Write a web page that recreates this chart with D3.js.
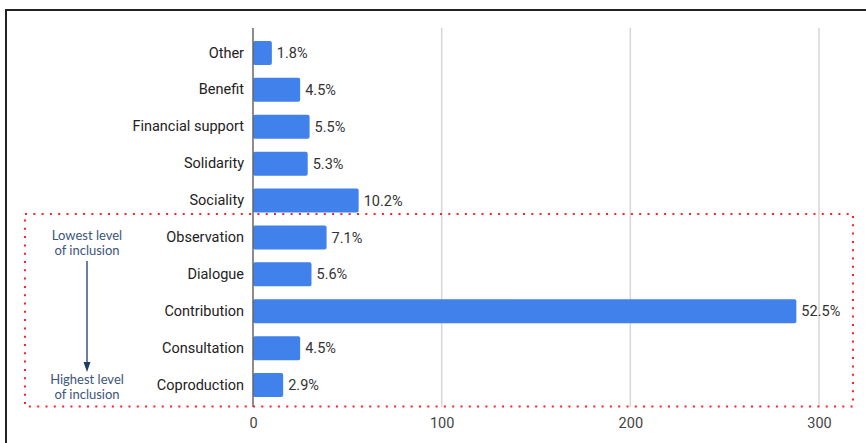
<!DOCTYPE html>
<html>
<head>
<meta charset="utf-8">
<script src="https://cdn.jsdelivr.net/npm/d3@7"></script>
<style>
  body { margin: 0; background: #fff; }
  svg { display: block; font-family: Roboto, "Noto Sans", sans-serif; }
</style>
</head>
<body>
<div id="chart"></div>
<script>
// chart data
const categories = ["Other", "Benefit", "Financial support", "Solidarity", "Sociality",
  "Observation", "Dialogue", "Contribution", "Consultation", "Coproduction"];
const counts = [10, 25, 30, 29, 56, 39, 31, 288, 25, 16];
const shares = ["1.8%", "4.5%", "5.5%", "5.3%", "10.2%", "7.1%", "5.6%", "52.5%", "4.5%", "2.9%"];
const xTicks = [0, 100, 200, 300];
const boxedRows = ["Observation", "Coproduction"];
const topNote = ["Lowest level", "of inclusion"];
const bottomNote = ["Highest level", "of inclusion"];

const width = 866;
const height = 443;

const svg = d3.select("#chart")
  .append("svg")
  .attr("width", width)
  .attr("height", height);

// outer frame
svg.append("rect")
  .attr("x", 6)
  .attr("y", 10)
  .attr("width", width + 10)
  .attr("height", height + 10)
  .attr("fill", "none")
  .attr("stroke", "#222")
  .attr("stroke-width", 2);

const x = d3.scaleLinear()
  .domain([0, 300])
  .range([253, 819]);

const y = d3.scaleBand()
  .domain(categories)
  .range([34.5, 403.5])
  .paddingInner(0.35)
  .paddingOuter(0.175);

const gridTop = 28;
const gridBottom = 407;

// gridlines
svg.append("g")
  .selectAll("line")
  .data(xTicks.filter(d => d > 0))
  .join("line")
  .attr("x1", d => x(d))
  .attr("x2", d => x(d))
  .attr("y1", gridTop)
  .attr("y2", gridBottom)
  .attr("stroke", "#d6d6d6")
  .attr("stroke-width", 1.5);

// bottom axis, labels only
const xAxis = svg.append("g")
  .attr("transform", `translate(0,${gridBottom})`)
  .call(d3.axisBottom(x).tickValues(xTicks).tickSize(0).tickPadding(11));
xAxis.select(".domain").remove();
xAxis.selectAll("text")
  .attr("font-family", "Roboto, sans-serif")
  .attr("font-size", 14.5)
  .attr("fill", "#444");

// bars
svg.append("g")
  .selectAll("rect")
  .data(categories)
  .join("rect")
  .attr("x", x(0))
  .attr("y", d => y(d))
  .attr("width", (d, i) => x(counts[i]) - x(0))
  .attr("height", y.bandwidth())
  .attr("rx", 2)
  .attr("fill", "#4081ec");

// zero line
svg.append("line")
  .attr("x1", x(0))
  .attr("x2", x(0))
  .attr("y1", gridTop)
  .attr("y2", gridBottom)
  .attr("stroke", "#666")
  .attr("stroke-width", 1.5);

// category labels
const yAxis = svg.append("g")
  .attr("transform", `translate(${x(0)},0)`)
  .call(d3.axisLeft(y).tickSize(0).tickPadding(9));
yAxis.select(".domain").remove();
yAxis.selectAll("text")
  .attr("font-family", "Roboto, sans-serif")
  .attr("font-size", 14.5)
  .attr("fill", "#222");

// value labels
svg.append("g")
  .selectAll("text")
  .data(categories)
  .join("text")
  .attr("x", (d, i) => x(counts[i]) + 5)
  .attr("y", d => y(d) + y.bandwidth() / 2)
  .attr("dy", "0.35em")
  .attr("font-size", 14.5)
  .attr("fill", "#333")
  .text((d, i) => shares[i]);

// red dotted box around the inclusion levels
const boxTop = y(boxedRows[0]) - (y.step() - y.bandwidth()) / 2 - 5;
const boxBottom = y(boxedRows[1]) + y.bandwidth() + (y.step() - y.bandwidth()) / 2 + 3;
svg.append("rect")
  .attr("x", 25)
  .attr("y", boxTop)
  .attr("width", 853 - 25)
  .attr("height", boxBottom - boxTop)
  .attr("fill", "none")
  .attr("stroke", "#f22")
  .attr("stroke-width", 2)
  .attr("stroke-dasharray", "2 6.3");

// inclusion annotation
const noteColor = "#3b557c";
const noteX = 87;
const note = svg.append("g")
  .attr("font-family", "Lato, sans-serif")
  .attr("font-size", 13)
  .attr("fill", noteColor)
  .attr("text-anchor", "middle");

note.selectAll(".top")
  .data(topNote)
  .join("text")
  .attr("class", "top")
  .attr("x", noteX)
  .attr("y", (d, i) => 240 + i * 15)
  .text(d => d);

note.selectAll(".bottom")
  .data(bottomNote)
  .join("text")
  .attr("class", "bottom")
  .attr("x", noteX)
  .attr("y", (d, i) => 384 + i * 15)
  .text(d => d);

svg.append("line")
  .attr("x1", noteX)
  .attr("x2", noteX)
  .attr("y1", 261)
  .attr("y2", 364)
  .attr("stroke", noteColor)
  .attr("stroke-width", 1.5);

svg.append("path")
  .attr("d", `M${noteX - 3.5},362 L${noteX + 3.5},362 L${noteX},372 Z`)
  .attr("fill", "#1f3a63");
</script>
</body>
</html>
